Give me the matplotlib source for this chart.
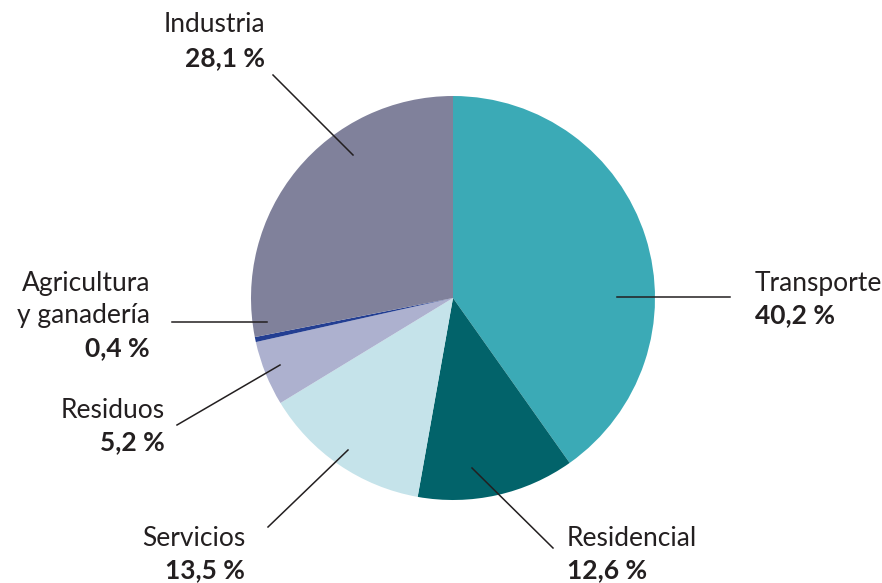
import matplotlib.pyplot as plt

# data
sectors = ["Transporte", "Residencial", "Servicios", "Residuos",
           "Agricultura\ny ganadería", "Industria"]
shares = [40.2, 12.6, 13.5, 5.2, 0.4, 28.1]
colors = ["#3baab6", "#02636a", "#c5e3ea", "#adb1cf", "#233e92", "#80819b"]

H = 583
# layout (pixels from top-left): pie centre / radius, labels, leader lines
cx, cy, r = 453, 298, 202
layout = {
    "Transporte": dict(name=(755, 283, "left"), value=(755, 315, "left"),
                       line=((617, 297), (730, 297))),
    "Residencial": dict(name=(567, 538, "left"), value=(567, 570, "left"),
                        line=((472, 468), (553, 548))),
    "Servicios": dict(name=(245, 538, "right"), value=(245, 570, "right"),
                      line=((348, 450), (268, 527))),
    "Residuos": dict(name=(165, 410, "right"), value=(165, 442, "right"),
                     line=((280, 365), (177, 425))),
    "Agricultura\ny ganadería": dict(name=(150, 300, "right"), value=(150, 348, "right"),
                                    line=((267, 322), (172, 322))),
    "Industria": dict(name=(265, 25, "right"), value=(265, 58, "right"),
                      line=((353, 155), (273, 75))),
}

plt.rcParams["font.family"] = ["Lato", "DejaVu Sans"]
fig = plt.figure(figsize=(8.82, 5.83), dpi=100)
ax = fig.add_axes([0, 0, 1, 1])

ax.pie(shares, colors=colors, startangle=90, counterclock=False,
       center=(cx, H - cy), radius=r, frame=True)
ax.set_xlim(0, 882)
ax.set_ylim(0, H)
ax.set_aspect("equal")
ax.axis("off")

ink = "#231f20"
for name, val in zip(sectors, shares):
    p = layout[name]
    (x0, y0), (x1, y1) = p["line"]
    ax.plot([x0, x1], [H - y0, H - y1], color=ink, lw=1.1)
    x, y, ha = p["name"]
    ax.text(x, H - y, name, ha=ha, va="center", ma=ha, fontsize=19,
            color=ink, linespacing=1.35)
    x, y, ha = p["value"]
    ax.text(x, H - y, f"{val:.1f} %".replace(".", ","), ha=ha,
            va="center", fontsize=19, fontweight="bold", color=ink)

fig.savefig("out.png", dpi=100)
